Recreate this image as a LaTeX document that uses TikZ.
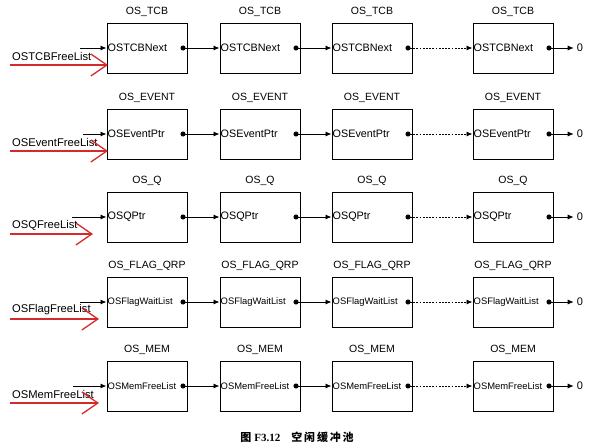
\documentclass[tikz,border=0pt]{standalone}
\usepackage{fontspec}
\setmainfont{Liberation Sans}
\newfontfamily\cjk{Noto Sans CJK SC}
\newfontfamily\capserif{Liberation Serif}
\usepackage{xcolor}
\usepackage{tikz}
\usetikzlibrary{positioning, arrows.meta}
\definecolor{freered}{HTML}{D42A2A}

\begin{document}
\begin{tikzpicture}[x=1pt, y=-1pt,
    blk/.style={draw, line width=1pt, minimum width=80pt, minimum height=50pt, inner sep=0pt},
    head/.style={font=\fontsize{10.5}{12}\selectfont, inner sep=1pt},
    field/.style={anchor=west, inner sep=1pt},
    listname/.style={anchor=west, font=\fontsize{11.2}{13}\selectfont, inner sep=0pt},
    zero/.style={font=\fontsize{11}{13}\selectfont, inner sep=3pt},
    link/.style={line width=0.9pt, {Circle[length=5pt, width=5pt]}-{Latex[length=6pt, width=5pt]}},
    inlink/.style={line width=0.9pt, -{Latex[length=6pt, width=5pt]}},
    gap/.style={link, dash pattern=on 1.8pt off 1.4pt},
    freearrow/.style={draw=freered, line width=1.3pt, -{Straight Barb[length=16pt, width=22pt, line width=1.3pt]}}]
    \useasboundingbox (0,0) rectangle (592,447);
    % one free list per row
    \foreach \r/\top/\type/\fld/\lst/\fs/\inx/\redx in {
        1/23/OS\_TCB/OSTCBNext/OSTCBFreeList/10.8/80/108,
        2/109/OS\_EVENT/OSEventPtr/OSEventFreeList/10.8/83/108,
        3/192/OS\_Q/OSQPtr/OSQFreeList/10.8/72/93,
        4/277/OS\_FLAG\_QRP/OSFlagWaitList/OSFlagFreeList/9.4/80/99,
        5/361/OS\_MEM/OSMemFreeList/OSMemFreeList/9.4/73/99}{
      \foreach \c/\x in {1/147, 2/260, 3/372, 4/513}{
        \node[blk] (box\r\c) at (\x,\top+25) {};
        \node[head] (head\r\c) at ([yshift=11pt]box\r\c.north) {\type};
        \node[field, font=\fontsize{\fs}{12}\selectfont] (fld\r\c) at (box\r\c.west) {\fld};
        \coordinate (ptr\r\c) at ([xshift=-7pt]box\r\c.east);
      }
      \node[listname] (list\r) at (12,\top+33) {\lst};
      \coordinate (in\r) at (\inx,\top+25);
      \coordinate (rs\r) at (10,\top+42);
      \coordinate (re\r) at (\redx,\top+42);
      \node[zero] (zero\r) at (580,\top+25) {0};
      \draw[inlink] (in\r) -- (fld\r1.west);
      \draw[freearrow] (rs\r) -- (re\r);
      \draw[link] (ptr\r1) -- (fld\r2.west);
      \draw[link] (ptr\r2) -- (fld\r3.west);
      \draw[gap] (ptr\r3) -- (fld\r4.west);
      \draw[link] (ptr\r4) -- (zero\r.west);
    }
    \node (caption) at (297,437) {\fontsize{11}{13}\selectfont\bfseries
      {\cjk 图}\ {\capserif F3.12}\quad{\cjk 空\,闲\,缓\,冲\,池}};
  \end{tikzpicture}
\end{document}
